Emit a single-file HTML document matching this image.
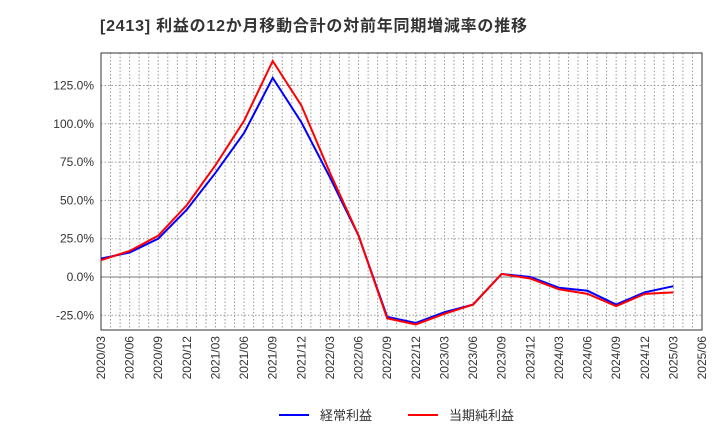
<!DOCTYPE html>
<html><head><meta charset="utf-8"><style>
body{margin:0;background:#fff;font-family:"Liberation Sans","Noto Sans CJK JP",sans-serif}
</style></head><body>
<svg id="c" width="720" height="440" xmlns="http://www.w3.org/2000/svg" style="font-family:'Liberation Sans','Noto Sans CJK JP',sans-serif">
<text x="100" y="31" font-size="16" font-weight="bold" fill="#333" textLength="427" lengthAdjust="spacing">[2413]  利益の12か月移動合計の対前年同期増減率の推移</text>
<g id="grid"></g><g id="axes"></g><g id="series"></g>
<g>
<line x1="279" y1="415" x2="309" y2="415" stroke="#0000ff" stroke-width="2"/>
<text x="320" y="420" font-size="13" fill="#333">経常利益</text>
<line x1="408" y1="415" x2="438" y2="415" stroke="#ff0000" stroke-width="2"/>
<text x="449" y="420" font-size="13" fill="#333">当期純利益</text>
</g>
</svg>
<script>
const categories=["2020/03","2020/06","2020/09","2020/12","2021/03","2021/06","2021/09","2021/12","2022/03","2022/06","2022/09","2022/12","2023/03","2023/06","2023/09","2023/12","2024/03","2024/06","2024/09","2024/12","2025/03","2025/06"];
const ordinary=[12,16,25,44,68,94,130,101,65,27,-26,-30,-23,-18,2,0,-7,-9,-18,-10,-6];
const net=[11,17,27,47,73,102,141,112,68,27,-27,-31,-24,-18,2,-1,-8,-11,-19,-11,-10];
const yTicks=[-25,0,25,50,75,100,125];
const NS="http://www.w3.org/2000/svg";
const L=101,R=702,T=53,B=330;
const xs=i=>L+(R-L)*i/21;
const ys=v=>277-v*1.532;
function mk(tag,a,p){const e=document.createElementNS(NS,tag);for(const k in a)e.setAttribute(k,a[k]);p.appendChild(e);return e;}
const g=document.getElementById('grid'),ax=document.getElementById('axes'),s=document.getElementById('series');
for(let m=1;m<63;m++){const x=L+(R-L)*m/63;const l=mk('line',{x1:x,x2:x,y1:T,y2:B,stroke:'#999','stroke-dasharray':'1.5,2','stroke-width':1},g);

}
yTicks.forEach(v=>{const y=ys(v);const l=mk('line',{x1:L,x2:R,y1:y,y2:y,stroke:v===0?'#777':'#999','stroke-dasharray':v===0?'none':'1.5,2','stroke-width':1},g);


const t=mk('text',{x:L-7,y:y+4,'text-anchor':'end','font-size':12,fill:'#333'},ax);t.textContent=v.toFixed(1)+'%';

});
const fr=mk('rect',{x:L,y:T,width:R-L,height:B-T,fill:'none',stroke:'#333','stroke-width':1},ax);


categories.forEach((c,i)=>{const x=xs(i);const t=mk('text',{x:x+4,y:B+6,'text-anchor':'end','font-size':12,fill:'#333',transform:`rotate(-90 ${x+4} ${B+6})`},ax);t.textContent=c;

});
function line(d,col,name){const p=mk('polyline',{points:d.map((v,i)=>xs(i)+','+ys(v)).join(' '),fill:'none',stroke:col,'stroke-width':2},s);

}
line(ordinary,'#0000ff','ordinary-profit-line');
line(net,'#ff0000','net-profit-line');
</script>
</body></html>
